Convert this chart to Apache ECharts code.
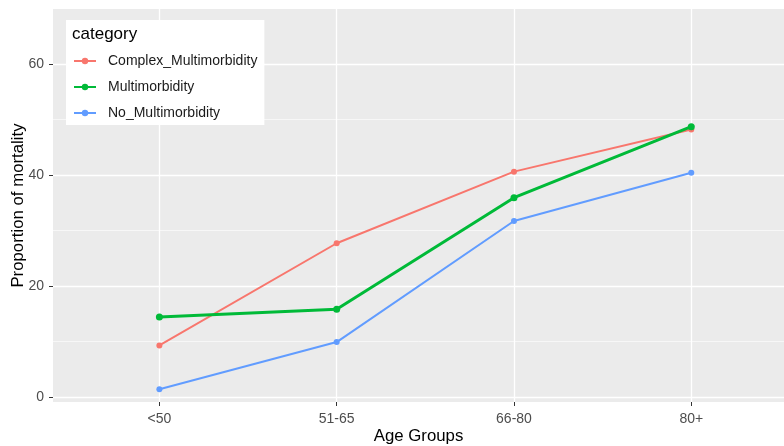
<!DOCTYPE html>
<html><head><meta charset="utf-8">
<script src="https://cdn.jsdelivr.net/npm/echarts@6/dist/echarts.min.js"></script>
<style>html,body{margin:0;padding:0;background:#fff}#c{width:784px;height:446px}</style>
</head><body><div id="c"></div>
<script>
const categories = ['<50', '51-65', '66-80', '80+'];
const complexMulti = [9.3, 27.7, 40.6, 48.2];
const multi = [14.4, 15.8, 35.9, 48.7];
const noMulti = [1.4, 9.9, 31.7, 40.4];
const yMajorTicks = [0, 20, 40, 60];
const yMinorTicks = [10, 30, 50];
const seriesNames = ['Complex_Multimorbidity', 'Multimorbidity', 'No_Multimorbidity'];
const colors = ['#F8766D', '#00BA38', '#619CFF'];

const xIdx = categories.map((c, i) => i);
const pairs = arr => arr.map((v, i) => [xIdx[i], v]);
const font = 'Liberation Sans, Arial, sans-serif';

const chart = echarts.init(document.getElementById('c'));
chart.setOption({
  animation: false,
  textStyle: { fontFamily: font },
  title: { text: 'category', left: 72, top: 26, padding: 0, textStyle: { fontSize: 17, fontWeight: 'normal', color: '#000', fontFamily: font } },
  legend: {
    orient: 'vertical', left: 66, top: 20,
    backgroundColor: '#fff', padding: [33, 7, 4, 7],
    itemWidth: 22, itemHeight: 8, itemGap: 10,
    textStyle: { fontSize: 14, lineHeight: 16, color: '#1a1a1a', fontFamily: font, padding: [0, 0, 0, 7] },
    data: seriesNames
  },
  grid: { left: 53, right: 0, top: 9, bottom: 44, backgroundColor: '#EBEBEB', show: true, borderWidth: 0, containLabel: false, outerBoundsMode: 'none' },
  xAxis: {
    type: 'value', min: -0.6, max: 3.523,
    name: 'Age Groups', nameLocation: 'middle', nameGap: 25.5, nameMoveOverlap: false,
    nameTextStyle: { fontSize: 16.8, color: '#000', fontFamily: font },
    axisLine: { show: false, onZero: false },
    axisTick: { show: true, length: 4, lineStyle: { color: '#333' }, customValues: xIdx },
    axisLabel: { customValues: xIdx, formatter: v => categories[Math.round(v)], color: '#4D4D4D', fontSize: 14, margin: 10 },
    splitLine: { show: true, lineStyle: { color: '#fff', width: 1.3 } }
  },
  yAxis: [{
    type: 'value', min: -0.9, max: 69.9,
    name: 'Proportion of mortality', nameLocation: 'middle', nameGap: 26.5, nameMoveOverlap: false,
    nameTextStyle: { fontSize: 16.8, color: '#000', fontFamily: font },
    axisLine: { show: false, onZero: false },
    axisTick: { show: true, length: 4, lineStyle: { color: '#333' }, customValues: yMajorTicks },
    axisLabel: { customValues: yMajorTicks, color: '#4D4D4D', fontSize: 14, margin: 9 },
    splitLine: { show: true, lineStyle: { color: '#fff', width: 1.3 } }
  }, {
    type: 'value', min: -0.9, max: 69.9, position: 'left',
    axisLine: { show: false, onZero: false }, axisLabel: { show: false },
    axisTick: { show: false, customValues: yMinorTicks },
    splitLine: { show: true, lineStyle: { color: '#fff', width: 0.6 } }
  }],
  series: [
    { name: seriesNames[0], type: 'line', data: pairs(complexMulti), color: colors[0], symbol: 'circle', symbolSize: 6, lineStyle: { width: 2 }, z: 3 },
    { name: seriesNames[1], type: 'line', data: pairs(multi), color: colors[1], symbol: 'circle', symbolSize: 7, lineStyle: { width: 3 }, z: 4 },
    { name: seriesNames[2], type: 'line', data: pairs(noMulti), color: colors[2], symbol: 'circle', symbolSize: 6, lineStyle: { width: 2 }, z: 3 }
  ]
});
</script></body></html>
